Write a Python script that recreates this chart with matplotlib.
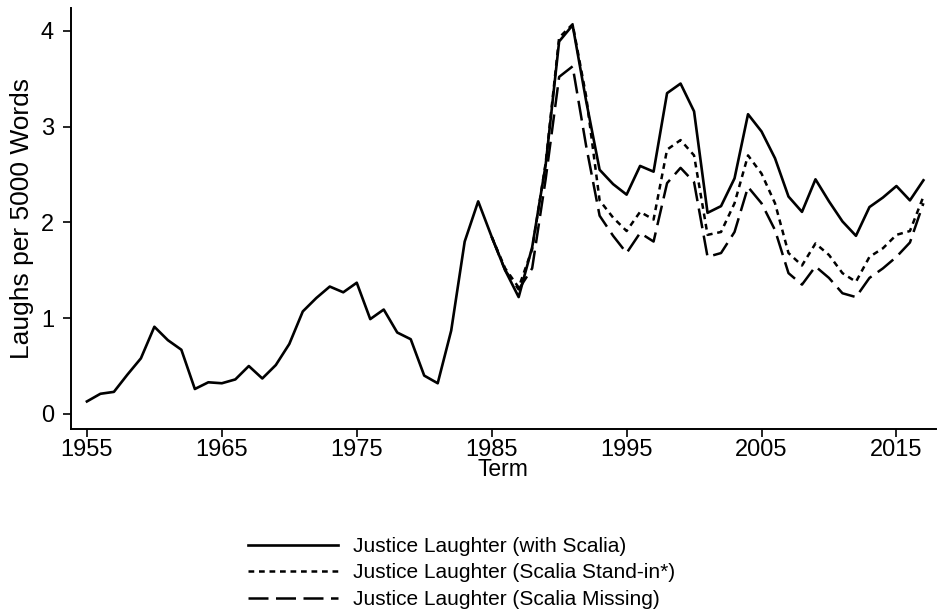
import matplotlib.pyplot as plt

plt.rcParams['font.family'] = ['Liberation Sans', 'DejaVu Sans']

# 데이터
years = list(range(1955, 2018))
with_scalia = [0.13, 0.21, 0.23, 0.41, 0.58, 0.91, 0.77, 0.67, 0.26, 0.33,
               0.32, 0.36, 0.50, 0.37, 0.51, 0.73, 1.07, 1.21, 1.33, 1.27,
               1.37, 0.99, 1.09, 0.85, 0.78, 0.40, 0.32, 0.87, 1.80, 2.22,
               1.85, 1.50, 1.22, 1.74, 2.60, 3.89, 4.06, 3.27, 2.55, 2.40,
               2.29, 2.59, 2.53, 3.35, 3.45, 3.16, 2.10, 2.17, 2.46, 3.13,
               2.95, 2.67, 2.27, 2.11, 2.45, 2.22, 2.01, 1.86, 2.16, 2.26,
               2.38, 2.23, 2.44]

years_scalia = list(range(1985, 2018))
stand_in = [1.85, 1.52, 1.32, 1.72, 2.62, 3.93, 4.07, 3.32, 2.23, 2.05,
            1.91, 2.11, 2.03, 2.76, 2.86, 2.70, 1.87, 1.90, 2.20, 2.70,
            2.51, 2.20, 1.68, 1.55, 1.78, 1.66, 1.47, 1.38, 1.64, 1.73,
            1.87, 1.91, 2.27]
missing = [1.85, 1.50, 1.30, 1.52, 2.45, 3.52, 3.63, 2.80, 2.07, 1.86,
           1.68, 1.89, 1.80, 2.41, 2.57, 2.42, 1.64, 1.68, 1.90, 2.37,
           2.20, 1.92, 1.47, 1.35, 1.54, 1.42, 1.26, 1.22, 1.42, 1.52,
           1.64, 1.79, 2.20]

labels = ['Justice Laughter (with Scalia)',
          'Justice Laughter (Scalia Stand-in*)',
          'Justice Laughter (Scalia Missing)']

fig = plt.figure(figsize=(9.38, 6.11), dpi=100)
ax = fig.add_axes([0.0754, 0.298, 0.922, 0.689])

ax.plot(years, with_scalia, color='k', lw=1.9, label=labels[0])
ax.plot(years_scalia, stand_in, color='k', lw=1.8, dashes=(2.3, 1.9), label=labels[1])
ax.plot(years_scalia, missing, color='k', lw=1.8, dashes=(8, 3), label=labels[2])

ax.set_xlim(1953.8, 2017.9)
ax.set_ylim(-0.157, 4.24)
ax.set_xticks([1955, 1965, 1975, 1985, 1995, 2005, 2015])
ax.set_yticks([0, 1, 2, 3, 4])

for side in ['top', 'right']:
    ax.spines[side].set_visible(False)
for side in ['left', 'bottom']:
    ax.spines[side].set_linewidth(1.4)

ax.tick_params(axis='both', direction='out', length=6, width=1.2, labelsize=17)
ax.tick_params(axis='x', pad=1)
ax.tick_params(axis='y', pad=6)
ax.set_xlabel('Term', fontsize=16.5, labelpad=-2)
ax.set_ylabel('Laughs per 5000 Words', fontsize=19, labelpad=5)

# 범례는 그림 아래쪽에
fig.legend(loc='upper left', bbox_to_anchor=(248 / 938, 1 - 537 / 611),
           frameon=False, fontsize=15, handlelength=4.3, handletextpad=0.75,
           labelspacing=0.36, borderpad=0, borderaxespad=0)

plt.savefig('out.png', dpi=100)
